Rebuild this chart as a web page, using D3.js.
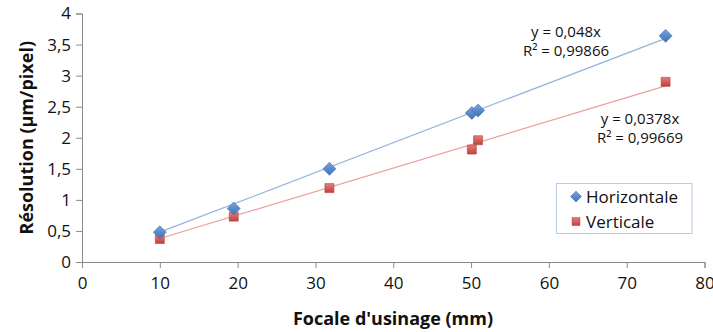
<!DOCTYPE html>
<html><head><meta charset="utf-8">
<script src="https://cdn.jsdelivr.net/npm/d3@7"></script>
<style>body{margin:0;background:#fff}svg{display:block}text{font-family:"Open Sans",sans-serif}</style>
</head><body>
<script>
const focale = [10, 19.5, 31.8, 50.1, 50.9, 75];
const horizontale = [0.48, 0.86, 1.50, 2.40, 2.44, 3.64];
const verticale = [0.37, 0.73, 1.19, 1.81, 1.96, 2.90];
const xTicks = [0,10,20,30,40,50,60,70,80];
const yTicks = [0,0.5,1,1.5,2,2.5,3,3.5,4];
const slopeH = 0.048, slopeV = 0.0378;
const eqH = ["y = 0,048x", "R² = 0,99866"];
const eqV = ["y = 0,0378x", "R² = 0,99669"];
const seriesNames = ["Horizontale", "Verticale"];

const W = 713, H = 332;
const svg = d3.select("body").append("svg").attr("width", W).attr("height", H);
const x = d3.scaleLinear().domain([0,80]).range([82,704.5]);
const y = d3.scaleLinear().domain([0,4]).range([262,13.5]);
const fmt = d => String(d).replace(".", ",");

const defs = svg.append("defs");
const gB = defs.append("linearGradient").attr("id","gb").attr("x1",0).attr("y1",0).attr("x2",0).attr("y2",1);
gB.append("stop").attr("offset",0).attr("stop-color","#7aa3dc");
gB.append("stop").attr("offset",1).attr("stop-color","#3f72b8");
const gR = defs.append("linearGradient").attr("id","gr").attr("x1",0).attr("y1",0).attr("x2",0).attr("y2",1);
gR.append("stop").attr("offset",0).attr("stop-color","#e77d7a");
gR.append("stop").attr("offset",1).attr("stop-color","#c0403d");

// axes
const xAxis = svg.append("g").attr("transform",`translate(0,${y(0)})`)
  .call(d3.axisBottom(x).tickValues(xTicks).tickSize(6).tickPadding(9).tickFormat(fmt));
const yAxis = svg.append("g").attr("transform",`translate(${x(0)},0)`)
  .call(d3.axisLeft(y).tickValues(yTicks).tickSize(6).tickPadding(5).tickFormat(fmt));
[xAxis,yAxis].forEach(a=>{
  a.select(".domain").attr("stroke","#8a8a8a").attr("stroke-width",1);
  a.selectAll(".tick line").attr("stroke","#8a8a8a");
  a.selectAll(".tick text").attr("fill","#111").attr("font-size","17px");
});

// trend lines
const line = d3.line().x(d=>x(d[0])).y(d=>y(d[1]));
const x0 = d3.min(focale), x1 = d3.max(focale);
svg.append("path").attr("d", line([[x0,slopeH*x0],[x1,slopeH*x1]])).attr("stroke","#94b4de").attr("stroke-width",1.2).attr("fill","none");
svg.append("path").attr("d", line([[x0,slopeV*x0],[x1,slopeV*x1]])).attr("stroke","#e8a09e").attr("stroke-width",1.2).attr("fill","none");

// markers
const diamond = "M0,-6.5L6.5,0L0,6.5L-6.5,0Z";
const square = "M-4.5,-4.5H4.5V4.5H-4.5Z";
svg.append("g").selectAll("path").data(focale).join("path")
  .attr("transform",(d,i)=>`translate(${x(d)},${y(verticale[i])})`)
  .attr("d",square).attr("fill","url(#gr)").attr("stroke","#b5403d").attr("stroke-width",0.6);
svg.append("g").selectAll("path").data(focale).join("path")
  .attr("transform",(d,i)=>`translate(${x(d)},${y(horizontale[i])})`)
  .attr("d",diamond).attr("fill","url(#gb)").attr("stroke","#3d6fb3").attr("stroke-width",0.6);

// equations
const eq = (lines, cx, by) => lines.forEach((t,i)=>svg.append("text").attr("x",cx).attr("y",by+i*19)
  .attr("text-anchor","middle").attr("font-size","15px").attr("fill","#111").text(t));
eq(eqH, 566, 37);
eq(eqV, 640, 124);

// legend
const lg = svg.append("g");
lg.append("rect").attr("x",556.5).attr("y",183.5).attr("width",135.5).attr("height",50).attr("fill","#fff").attr("stroke","#b9cde5");
lg.append("path").attr("transform","translate(576,196.5)").attr("d","M0,-5.5L5.5,0L0,5.5L-5.5,0Z").attr("fill","url(#gb)").attr("stroke","#3d6fb3").attr("stroke-width",0.5);
lg.append("path").attr("transform","translate(576,221.5)").attr("d","M-4,-4H4V4H-4Z").attr("fill","url(#gr)").attr("stroke","#b5403d").attr("stroke-width",0.5);
seriesNames.forEach((n,i)=>lg.append("text").attr("x",586).attr("y",203+i*25).attr("font-size","17px").attr("fill","#111").text(n));

// titles
svg.append("text").attr("x",393).attr("y",325).attr("text-anchor","middle").attr("font-size","18px").attr("font-weight","bold").attr("fill","#111").text("Focale d'usinage (mm)");
svg.append("text").attr("transform",`translate(33,${(13.5+262)/2}) rotate(-90)`).attr("text-anchor","middle").attr("font-size","18px").attr("font-weight","bold").attr("fill","#111").text("Résolution (µm/pixel)");
</script>
</body></html>
